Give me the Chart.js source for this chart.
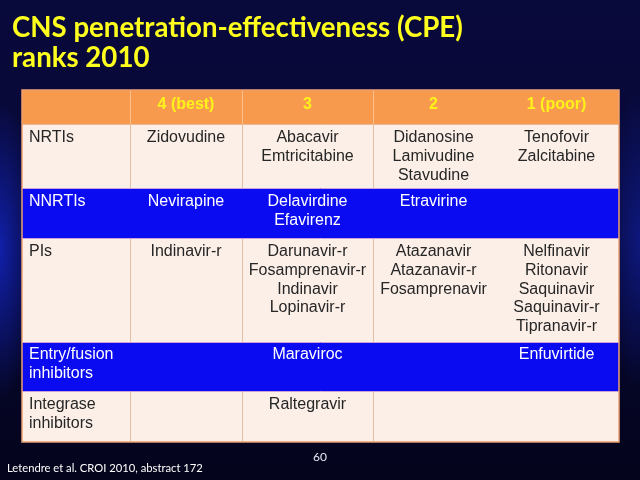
<!DOCTYPE html>
<html><head><meta charset="utf-8">
<script src="https://cdn.jsdelivr.net/npm/chart.js"></script>
<style>html,body{margin:0;padding:0;background:#05062a;}canvas{display:block}</style>
</head><body>
<canvas id="c" width="640" height="480"></canvas>
<script>
// ---- data ----
const rankLabels = ['4 (best)', '3', '2', '1 (poor)'];
const drugClasses = ['NRTIs', 'NNRTIs', 'PIs', 'Entry/fusion\ninhibitors', 'Integrase\ninhibitors'];
const rank4 = [['Zidovudine'], ['Nevirapine'], ['Indinavir-r'], [], []];
const rank3 = [['Abacavir', 'Emtricitabine'], ['Delavirdine', 'Efavirenz'], ['Darunavir-r', 'Fosamprenavir-r', 'Indinavir', 'Lopinavir-r'], ['Maraviroc'], ['Raltegravir']];
const rank2 = [['Didanosine', 'Lamivudine', 'Stavudine'], ['Etravirine'], ['Atazanavir', 'Atazanavir-r', 'Fosamprenavir'], [], []];
const rank1 = [['Tenofovir', 'Zalcitabine'], [], ['Nelfinavir', 'Ritonavir', 'Saquinavir', 'Saquinavir-r', 'Tipranavir-r'], ['Enfuvirtide'], []];
const titleLines = ['CNS penetration-effectiveness (CPE)', 'ranks 2010'];
const footnote = 'Letendre et al. CROI 2010, abstract 172';
const slideNumber = '60';

// ---- layout (table units) ----
const colEdges = [0, 108, 220, 351, 472, 597];
const rowHeights = [34, 64, 50, 104, 49, 51];
const rowStyles = ['head', 'light', 'blue', 'light', 'blue', 'light'];
const colLines = [1, 2, 3];
const tableW = colEdges[colEdges.length - 1];
const tableH = rowHeights.reduce((a, b) => a + b, 0);

const rankCols = [rank4, rank3, rank2, rank1];

const tablePlugin = {
  id: 'cpeTable',
  beforeDraw(chart) {
    const ctx = chart.ctx, W = chart.width, H = chart.height;
    ctx.save();
    const g = ctx.createLinearGradient(0, 0, 0, H);
    g.addColorStop(0, '#090a3c');
    g.addColorStop(0.5, '#070834');
    g.addColorStop(1, '#04041c');
    ctx.fillStyle = g;
    ctx.fillRect(0, 0, W, H);
    // side glows
    const gl = ctx.createRadialGradient(0, 250, 0, 0, 250, 150);
    gl.addColorStop(0, 'rgba(20,40,210,0.75)');
    gl.addColorStop(1, 'rgba(20,40,210,0)');
    ctx.save(); ctx.scale(0.25, 1);
    ctx.fillStyle = gl; ctx.fillRect(0, 0, 200, H);
    ctx.restore();
    const gr = ctx.createRadialGradient(640, 240, 0, 640, 240, 150);
    gr.addColorStop(0, 'rgba(20,40,200,0.5)');
    gr.addColorStop(1, 'rgba(20,40,200,0)');
    ctx.save(); ctx.translate(640, 0); ctx.scale(0.25, 1); ctx.translate(-640, 0);
    ctx.fillStyle = gr; ctx.fillRect(440, 0, 200, H);
    ctx.restore();
    ctx.restore();
  },
  afterDraw(chart) {
    const ctx = chart.ctx;
    const xs = chart.scales.x, ys = chart.scales.y;
    const X = v => xs.getPixelForValue(v), Y = v => ys.getPixelForValue(v);
    const tops = [0];
    rowHeights.forEach(h => tops.push(tops[tops.length - 1] + h));
    ctx.save();
    // fills
    rowStyles.forEach((s, r) => {
      ctx.fillStyle = s === 'head' ? '#F79A4E' : (s === 'blue' ? '#0B0BF2' : '#FCEFE8');
      ctx.fillRect(X(0), Y(tops[r]), X(tableW) - X(0), Y(tops[r + 1]) - Y(tops[r]));
    });
    // vertical lines
    rowStyles.forEach((s, r) => {
      if (s === 'blue') return;
      ctx.strokeStyle = s === 'head' ? 'rgba(255,210,170,0.7)' : '#E6BFA3';
      ctx.lineWidth = 1;
      colLines.forEach(c => {
        const x = Math.round(X(colEdges[c])) + 0.5;
        ctx.beginPath(); ctx.moveTo(x, Y(tops[r])); ctx.lineTo(x, Y(tops[r + 1])); ctx.stroke();
      });
    });
    // horizontal lines
    for (let r = 1; r < rowStyles.length; r++) {
      const y = Math.round(Y(tops[r])) + 0.5;
      const nearBlue = rowStyles[r] === 'blue' || rowStyles[r - 1] === 'blue';
      ctx.strokeStyle = nearBlue ? '#C9A2D8' : '#E8B898';
      ctx.lineWidth = 1;
      ctx.beginPath(); ctx.moveTo(X(0), y); ctx.lineTo(X(tableW), y); ctx.stroke();
    }
    // outer border
    ctx.strokeStyle = '#EDA070';
    ctx.lineWidth = 1.5;
    ctx.strokeRect(X(0), Y(0), X(tableW) - X(0), Y(tableH) - Y(0));

    // header text
    const lineH = 18.7, firstOff = 13.8;
    ctx.textBaseline = 'middle';
    ctx.textAlign = 'center';
    ctx.font = 'bold 16px "Liberation Sans", Arial, sans-serif';
    ctx.fillStyle = '#FFF21A';
    rankLabels.forEach((t, i) => {
      const cx = (X(colEdges[i + 1]) + X(colEdges[i + 2])) / 2;
      ctx.fillText(t, cx, Y(tops[0]) + 14.5);
    });
    // body text
    ctx.font = '16px "Liberation Sans", Arial, sans-serif';
    drugClasses.forEach((cls, i) => {
      const r = i + 1;
      const blue = rowStyles[r] === 'blue';
      ctx.fillStyle = blue ? '#FFFFFF' : '#262626';
      const top = Y(tops[r]) + (blue && r === 4 ? 12.5 : firstOff);
      ctx.textAlign = 'left';
      cls.split('\n').forEach((ln, k) => ctx.fillText(ln, X(0) + 7, top + k * lineH));
      ctx.textAlign = 'center';
      rankCols.forEach((col, c) => {
        const cx = (X(colEdges[c + 1]) + X(colEdges[c + 2])) / 2;
        col[i].forEach((ln, k) => ctx.fillText(ln, cx, top + k * lineH));
      });
    });

    // title
    ctx.textAlign = 'left';
    ctx.textBaseline = 'alphabetic';
    ctx.fillStyle = '#FFFF1E';
    let fs = 28;
    ctx.font = 'bold ' + fs + 'px Lato, "Open Sans", sans-serif';
    const w0 = ctx.measureText(titleLines[0]).width;
    fs = fs * 451 / w0;
    ctx.font = 'bold ' + fs + 'px Lato, "Open Sans", sans-serif';
    ctx.fillText(titleLines[0], 12, 37);
    ctx.fillText(titleLines[1], 12, 67);

    // footnote
    ctx.fillStyle = '#FFFFFF';
    let fn = 14;
    ctx.font = fn + 'px Lato, "Open Sans", sans-serif';
    const w1 = ctx.measureText(footnote).width;
    fn = fn * 196 / w1;
    ctx.font = fn + 'px Lato, "Open Sans", sans-serif';
    ctx.fillText(footnote, 7, 472);
    ctx.font = '12px Lato, "Open Sans", sans-serif';
    ctx.fillStyle = '#E8E8F0';
    ctx.fillText(slideNumber, 313, 461);
    ctx.restore();
  }
};

new Chart(document.getElementById('c'), {
  type: 'scatter',
  data: { datasets: [{ data: [], pointRadius: 0 }] },
  options: {
    responsive: false,
    animation: false,
    events: [],
    layout: { padding: { left: 22, right: 21, top: 90, bottom: 38 } },
    plugins: { legend: { display: false }, tooltip: { enabled: false }, title: { display: false } },
    scales: {
      x: { type: 'linear', min: 0, max: tableW, display: false },
      y: { type: 'linear', min: 0, max: tableH, reverse: true, display: false }
    }
  },
  plugins: [tablePlugin]
});
</script>
</body></html>
